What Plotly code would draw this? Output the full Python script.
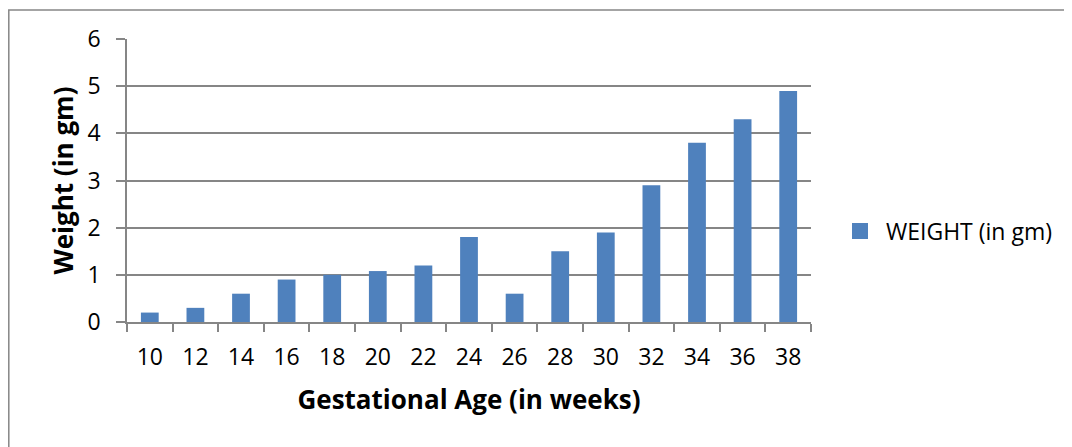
import plotly.graph_objects as go

weeks = ["10", "12", "14", "16", "18", "20", "22", "24", "26", "28", "30", "32", "34", "36", "38"]
weight = [0.2, 0.3, 0.6, 0.9, 1.0, 1.08, 1.2, 1.8, 0.6, 1.5, 1.9, 2.9, 3.8, 4.3, 4.9]
series_name = "WEIGHT (in gm)"
y_ticks = [0, 1, 2, 3, 4, 5, 6]

# the page body has an 8px margin, so figure coordinates = page coordinates - 8
W, H = 1064, 439
L, R, T, B = 119, 803, 31, 314
pw, ph = R - L, B - T

FONT = "Open Sans"
BLUE = "#4F81BD"
GRAY = "#868686"

fig = go.Figure()
fig.add_trace(go.Bar(x=weeks, y=weight, name=series_name, marker=dict(color=BLUE, line=dict(width=0)),
                     showlegend=False))
fig.add_trace(go.Scatter(x=[None], y=[None], mode="markers", name="\u00a0" + series_name,
                         marker=dict(symbol="square", size=16, color=BLUE)))

fig.update_layout(
    width=W, height=H,
    margin=dict(l=L, r=W - R, t=T, b=H - B, pad=0),
    paper_bgcolor="white", plot_bgcolor="white",
    bargap=0.61,
    font=dict(family=FONT, size=23, color="black"),
    legend=dict(x=(832 - L) / pw, xanchor="left", y=(B - 223) / ph, yanchor="middle",
                font=dict(family=FONT, size=23), bgcolor="rgba(0,0,0,0)"),
    xaxis=dict(type="category", showgrid=False, showline=True, linecolor=GRAY, linewidth=1.5,
               ticks="outside", tickson="boundaries", ticklen=8, tickcolor=GRAY, tickwidth=1.5,
               ticklabelstandoff=14,
               title=dict(text="<b>Gestational Age (in weeks)</b>", font=dict(size=26), standoff=19)),
    yaxis=dict(range=[0, 6], tickvals=y_ticks, showgrid=True, gridcolor=GRAY, gridwidth=1.5,
               showline=True, linecolor=GRAY, linewidth=1.5, zeroline=False,
               ticks="outside", ticklen=9, tickcolor=GRAY, tickwidth=1.5,
               ticklabelstandoff=11,
               title=dict(text="<b>Weight (in gm)</b>", font=dict(size=26), standoff=6)),
)

# outer chart border
fig.add_shape(type="rect", xref="paper", yref="paper",
              x0=(0.8 - L) / pw, x1=(1090 - L) / pw, y0=(B - 470) / ph, y1=(B - 2) / ph,
              line=dict(color=GRAY, width=1.5), fillcolor="rgba(0,0,0,0)", layer="below")

fig.write_html("out.html")
